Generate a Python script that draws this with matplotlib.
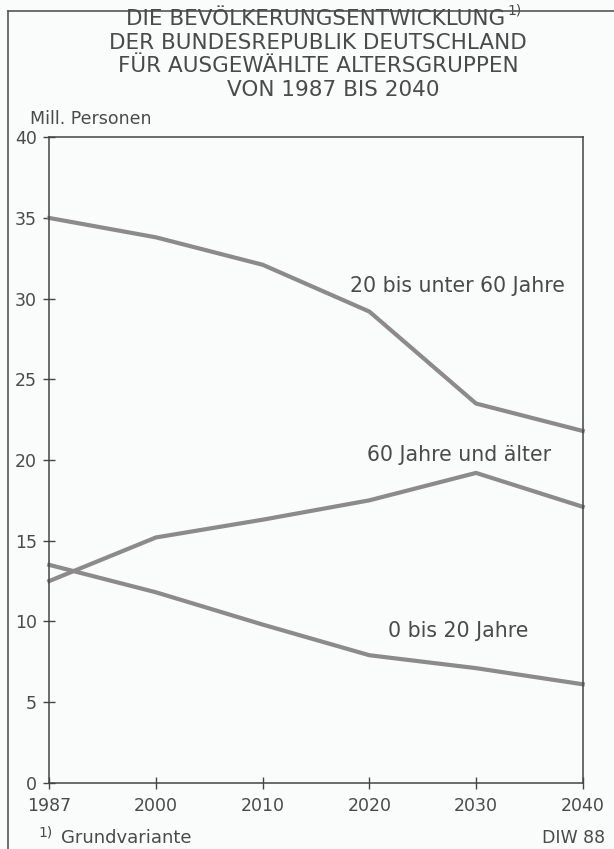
import matplotlib
matplotlib.use("Agg")
import matplotlib.pyplot as plt
from matplotlib.lines import Line2D

# ---- data ----
years = ["1987", "2000", "2010", "2020", "2030", "2040"]
age_20_60 = [35.0, 33.8, 32.1, 29.2, 23.5, 21.8]
age_60_plus = [12.5, 15.2, 16.3, 17.5, 19.2, 17.1]
age_0_20 = [13.5, 11.8, 9.8, 7.9, 7.1, 6.1]
series_labels = ["20 bis unter 60 Jahre", "60 Jahre und älter", "0 bis 20 Jahre"]
y_ticks = [0, 5, 10, 15, 20, 25, 30, 35, 40]
title_lines = ["DIE BEVÖLKERUNGSENTWICKLUNG", "DER BUNDESREPUBLIK DEUTSCHLAND",
               "FÜR AUSGEWÄHLTE ALTERSGRUPPEN", "VON 1987 BIS 2040"]
unit_label = "Mill. Personen"
footnote = "Grundvariante"
source = "DIW 88"

W, H = 614, 849
TXT = "#4a4a4a"
LINE = "#8c8a8a"
BG = "#fafbfb"

plt.rcParams['font.family'] = ['DejaVu Sans']

fig = plt.figure(figsize=(W / 100, H / 100), dpi=100, facecolor=BG)

def fx(x):
    return x / W

def fy(y):
    return 1 - y / H

# outer frame (left + top)
fig.add_artist(Line2D([fx(8), fx(8)], [fy(11), fy(849)], color="#555555", lw=1.2))
fig.add_artist(Line2D([fx(8), fx(614)], [fy(11), fy(11)], color="#555555", lw=1.2))

left, right, top, bottom = 49.3, 582.7, 137.3, 782.7
ax = fig.add_axes([fx(left), fy(bottom), (right - left) / W, (bottom - top) / H])
ax.set_facecolor(BG)

x = list(range(len(years)))
for vals in (age_20_60, age_60_plus, age_0_20):
    ax.plot(x, vals, color=LINE, lw=3.0, solid_joinstyle="round", clip_on=False)

ax.set_xlim(0, len(years) - 1)
ax.set_ylim(0, 40)
ax.set_xticks(x)
ax.set_xticklabels(years)
ax.set_yticks(y_ticks)
ax.tick_params(direction="inout", length=9, width=1.0, color="#444444",
               labelsize=12.5, labelcolor=TXT)
ax.tick_params(axis="y", pad=4.5)
ax.tick_params(axis="x", pad=5.5)
for s in ax.spines.values():
    s.set_color("#444444")
    s.set_linewidth(1.1)

# series labels
label_pos = [(3.83, 30.42), (3.84, 19.96), (3.83, 9.01)]
for lab, (lx, ly) in zip(series_labels, label_pos):
    ax.text(lx, ly, lab, ha="center", va="baseline", fontsize=14.8, color=TXT)

# title
title_y = [25, 49, 72, 96]
title_x = [316, 318, 318, 333]
for i, (t, ty, tx) in enumerate(zip(title_lines, title_y, title_x)):
    txt = fig.text(fx(tx), fy(ty), t, ha="center", va="baseline", fontsize=15.5, color=TXT)
    if i == 0:
        ax.annotate("1)", xy=(1, 0.6), xycoords=txt, xytext=(1, 0),
                    textcoords="offset points", fontsize=10, color=TXT,
                    ha="left", va="bottom")

fig.text(fx(30), fy(124), unit_label, ha="left", va="baseline", fontsize=12.5, color=TXT)

# footer
fig.text(fx(38), fy(837), "1)", ha="left", va="baseline", fontsize=10, color=TXT)
fig.text(fx(61), fy(843), footnote, ha="left", va="baseline", fontsize=13, color=TXT)
fig.text(fx(605), fy(843), source, ha="right", va="baseline", fontsize=12.5, color=TXT)

fig.savefig("out.png", dpi=100, facecolor=BG)
